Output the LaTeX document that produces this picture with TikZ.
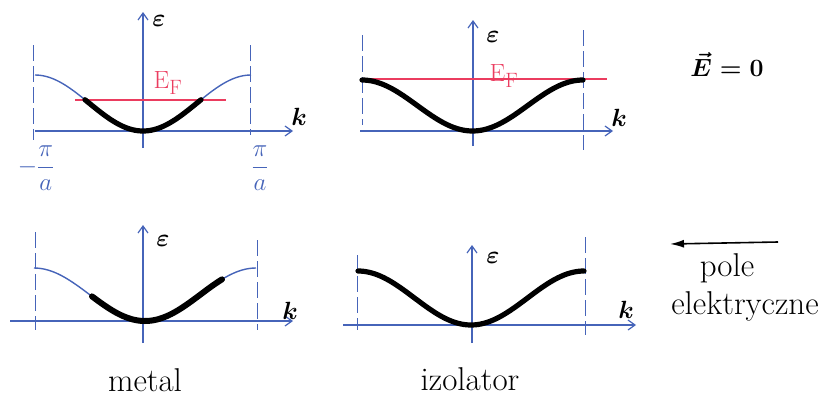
\documentclass[tikz,border=0pt]{standalone}
\usepackage{amsmath}
\usetikzlibrary{arrows.meta}
\definecolor{pen}{RGB}{70,100,185}
\definecolor{redpen}{RGB}{235,60,95}
\tikzset{
 axis/.style={pen, line width=1.2pt, -{Straight Barb[length=7pt,width=10pt]}},
 zone/.style={pen, line width=0.8pt, dash pattern=on 16pt off 5pt},
 band/.style={pen, line width=1.4pt},
 filled/.style={black, line width=5.2pt, line cap=round},
 fermi/.style={redpen, line width=1.1pt},
 lbl/.style={font=\fontsize{32}{36}\selectfont\boldmath, inner sep=1pt},
 flbl/.style={font=\fontsize{28}{32}\selectfont, inner sep=1pt},
 frac/.style={font=\fontsize{24}{28}\selectfont, text=pen, inner sep=1pt},
 word/.style={font=\fontsize{33}{36}\selectfont, inner sep=1pt},
}
\begin{document}
\begin{tikzpicture}[x=1pt,y=-1pt]
\useasboundingbox (0,0) rectangle (829,399);
% ---------- panel 1: metal, E=0
\coordinate (a1l) at (35,131); \coordinate (a1r) at (293,131);
\coordinate (e1b) at (143,148); \coordinate (e1t) at (143,12);
\coordinate (z1a) at (33,45); \coordinate (z1b) at (33,140);
\coordinate (z1c) at (250,45); \coordinate (z1d) at (250,135);
\coordinate (f1a) at (75,100); \coordinate (f1b) at (226,100);
\draw[zone] (z1a) -- (z1b);
\draw[zone] (z1c) -- (z1d);
\draw[axis] (a1l) -- (a1r);
\draw[axis] (e1b) -- (e1t);
\draw[band] plot[domain=-108:108,samples=80] ({143+\x},{131-28*(1-cos(\x/108*180))});
\draw[fermi] (f1a) -- (f1b);
\draw[filled] plot[domain=-58:58,samples=50] ({143+\x},{131-28*(1-cos(\x/108*180))});
\node[lbl] (eps1) at (159,21) {$\varepsilon$};
\node[lbl] (k1) at (299,117) {$k$};
\node[flbl,text=redpen] (EF1) at (168,83) {$\mathrm{E}_{\mathrm{F}}$};
\node[frac] (mpi) at (36,168) {$-\dfrac{\pi}{a}$};
\node[frac] (ppi) at (260,168) {$\dfrac{\pi}{a}$};
% ---------- panel 2: insulator, E=0
\coordinate (a2l) at (360,131); \coordinate (a2r) at (613,131);
\coordinate (e2b) at (473,146); \coordinate (e2t) at (473,20);
\coordinate (z2a) at (362,35); \coordinate (z2b) at (362,125);
\coordinate (z2c) at (583,30); \coordinate (z2d) at (583,150);
\coordinate (f2a) at (360,79); \coordinate (f2b) at (607,79);
\draw[zone] (z2a) -- (z2b);
\draw[zone] (z2c) -- (z2d);
\draw[axis] (a2l) -- (a2r);
\draw[axis] (e2b) -- (e2t);
\draw[fermi] (f2a) -- (f2b);
\draw[filled] plot[domain=-110.5:110.5,samples=80] ({472.5+\x},{131-25.5*(1-cos(\x/110.5*180))});
\node[lbl] (eps2) at (493,37) {$\varepsilon$};
\node[lbl] (k2) at (619,118) {$k$};
\node[flbl,text=redpen] (EF2) at (504,76) {$\mathrm{E}_{\mathrm{F}}$};
% ---------- E = 0
\node[flbl] (E0) at (727,64) {$\boldsymbol{\vec{E}=0}$};
% ---------- panel 3: metal, field
\coordinate (a3l) at (10,321); \coordinate (a3r) at (293,321);
\coordinate (e3b) at (143,343); \coordinate (e3t) at (143,225);
\coordinate (z3a) at (35,232); \coordinate (z3b) at (35,330);
\coordinate (z3c) at (257,240); \coordinate (z3d) at (257,330);
\draw[zone] (z3a) -- (z3b);
\draw[zone] (z3c) -- (z3d);
\draw[axis] (a3l) -- (a3r);
\draw[axis] (e3b) -- (e3t);
\draw[band] plot[domain=-111:111,samples=80] ({145+\x},{321-26.5*(1-cos(\x/111*180))});
\draw[filled, line width=6pt] plot[domain=-53:77,samples=60] ({145+\x},{321-26.5*(1-cos(\x/111*180))});
\node[lbl] (eps3) at (163,241) {$\varepsilon$};
\node[lbl] (k3) at (290,311) {$k$};
\node[word] (metal) at (145,380) {metal};
% ---------- panel 4: insulator, field
\coordinate (a4l) at (343,325); \coordinate (a4r) at (636,325);
\coordinate (e4b) at (472,343); \coordinate (e4t) at (472,245);
\coordinate (z4a) at (357,255); \coordinate (z4b) at (357,330);
\coordinate (z4c) at (585,237); \coordinate (z4d) at (585,335);
\draw[zone] (z4a) -- (z4b);
\draw[zone] (z4c) -- (z4d);
\draw[axis] (a4l) -- (a4r);
\draw[axis] (e4b) -- (e4t);
\draw[filled] plot[domain=-113:113,samples=80] ({471+\x},{325-27*(1-cos(\x/113*180))});
\node[lbl] (eps4) at (493,258) {$\varepsilon$};
\node[lbl] (k4) at (626,310) {$k$};
\node[word] (izol) at (470,379) {izolator};
% ---------- field arrow
\coordinate (fs) at (778,242); \coordinate (fe) at (670,244);
\draw[black, line width=1.6pt, -{Latex[length=14pt,width=8pt]}] (fs) -- (fe);
\node[word] (pole) at (727,268) {pole};
\node[word] (elek) at (745,306) {elektryczne};
\end{tikzpicture}
\end{document}
